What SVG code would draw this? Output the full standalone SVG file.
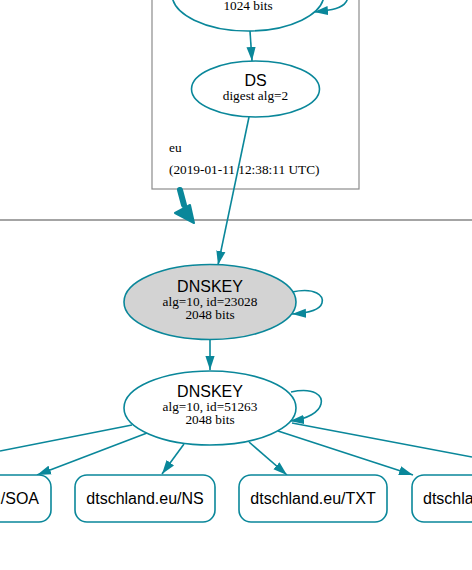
<svg xmlns="http://www.w3.org/2000/svg" width="472" height="570" viewBox="0 0 472 570">
<style>
.bg{fill:#ffffff}
.cl{fill:none;stroke:#8c8c8c;stroke-width:1.2}
.zl{fill:none;stroke:#4a4a4a;stroke-width:1.2}
.n{fill:#ffffff;stroke:#0a879a;stroke-width:1.6}
.ksk{fill:#d3d3d3;stroke:#0a879a;stroke-width:1.6}
.e{fill:none;stroke:#0a879a;stroke-width:1.6}
.t{font-family:"Liberation Sans",Arial,sans-serif;font-size:16px;fill:#000;text-anchor:middle}
.s{font-family:"Liberation Serif","Times New Roman",serif;font-size:13.3px;fill:#000;text-anchor:middle}
.z{font-family:"Liberation Serif","Times New Roman",serif;font-size:13.3px;fill:#000}
</style>
<defs>
<marker id="ah" markerUnits="userSpaceOnUse" markerWidth="14" markerHeight="10" viewBox="0 0 14 10" refX="14" refY="5" orient="auto">
<path d="M0,0.4 L14,5 L0,9.6 z" fill="#0a879a"/>
</marker>
</defs>
<rect class="bg" x="0" y="0" width="472" height="570"/>
<g id="cluster-eu">
<rect class="cl" x="152" y="-20" width="207" height="209"/>
<text class="z" x="169" y="152">eu</text>
<text class="z" x="169" y="174">(2019-01-11 12:38:11 UTC)</text>
</g>
<g id="cluster-dtschland">
<line class="zl" x1="0" y1="220" x2="472" y2="220"/>
</g>
<g id="edges">
<path class="e" d="M312,-20 C340,-24 352,-6 346,2 C342,8 334,10 314,12" marker-end="url(#ah)"/>
<path class="e" d="M250,31 L252,61" marker-end="url(#ah)"/>
<path class="e" d="M249,117 L218,265" marker-end="url(#ah)"/>
<path d="M180,190 L184,205" fill="none" stroke="#0a879a" stroke-width="6" stroke-linecap="round"/>
<polygon points="175,213 194,223 190,205" fill="#0a879a" stroke="#0a879a" stroke-width="2" stroke-linejoin="round"/>
<path class="e" d="M292,292 C316,287 324,296 322,303 C320,310 310,313 292,314" marker-end="url(#ah)"/>
<path class="e" d="M210,339 L210,370" marker-end="url(#ah)"/>
<path class="e" d="M291,392 C315,387 323,396 321,404 C319,412 308,419 290,421" marker-end="url(#ah)"/>
<path class="e" d="M132,425 L0,451"/>
<path class="e" d="M292,423 L472,457"/>
<path class="e" d="M147,433 L37,475" marker-end="url(#ah)"/>
<path class="e" d="M184,444 L162,474" marker-end="url(#ah)"/>
<path class="e" d="M249,442 L287,475" marker-end="url(#ah)"/>
<path class="e" d="M278,431 L413,475" marker-end="url(#ah)"/>
</g>
<g id="node-dnskey-eu">
<ellipse class="n" cx="248" cy="-6" rx="76" ry="37"/>
<text class="s" x="248" y="10">1024 bits</text>
</g>
<g id="node-ds">
<ellipse class="n" cx="255.5" cy="89" rx="64" ry="28"/>
<text class="t" x="255.5" y="86">DS</text>
<text class="s" x="255.5" y="100">digest alg=2</text>
</g>
<g id="node-dnskey-23028">
<ellipse class="ksk" cx="210" cy="302" rx="86" ry="37.5"/>
<text class="t" x="210" y="292">DNSKEY</text>
<text class="s" x="210" y="306">alg=10, id=23028</text>
<text class="s" x="210" y="319">2048 bits</text>
</g>
<g id="node-dnskey-51263">
<ellipse class="n" cx="210" cy="408" rx="86" ry="37"/>
<text class="t" x="210" y="397">DNSKEY</text>
<text class="s" x="210" y="411">alg=10, id=51263</text>
<text class="s" x="210" y="424">2048 bits</text>
</g>
<g id="node-soa">
<rect class="n" x="-102" y="475" width="153" height="47" rx="12"/>
<text class="t" x="39" y="504" style="text-anchor:end">dtschland.eu/SOA</text>
</g>
<g id="node-ns">
<rect class="n" x="75" y="475" width="140" height="47" rx="12"/>
<text class="t" x="145" y="504">dtschland.eu/NS</text>
</g>
<g id="node-txt">
<rect class="n" x="239" y="475" width="148" height="47" rx="12"/>
<text class="t" x="313" y="504">dtschland.eu/TXT</text>
</g>
<g id="node-rr4">
<rect class="n" x="412" y="475" width="140" height="47" rx="12"/>
<text class="t" x="423" y="504" style="text-anchor:start">dtschland.eu/A</text>
</g>
</svg>
